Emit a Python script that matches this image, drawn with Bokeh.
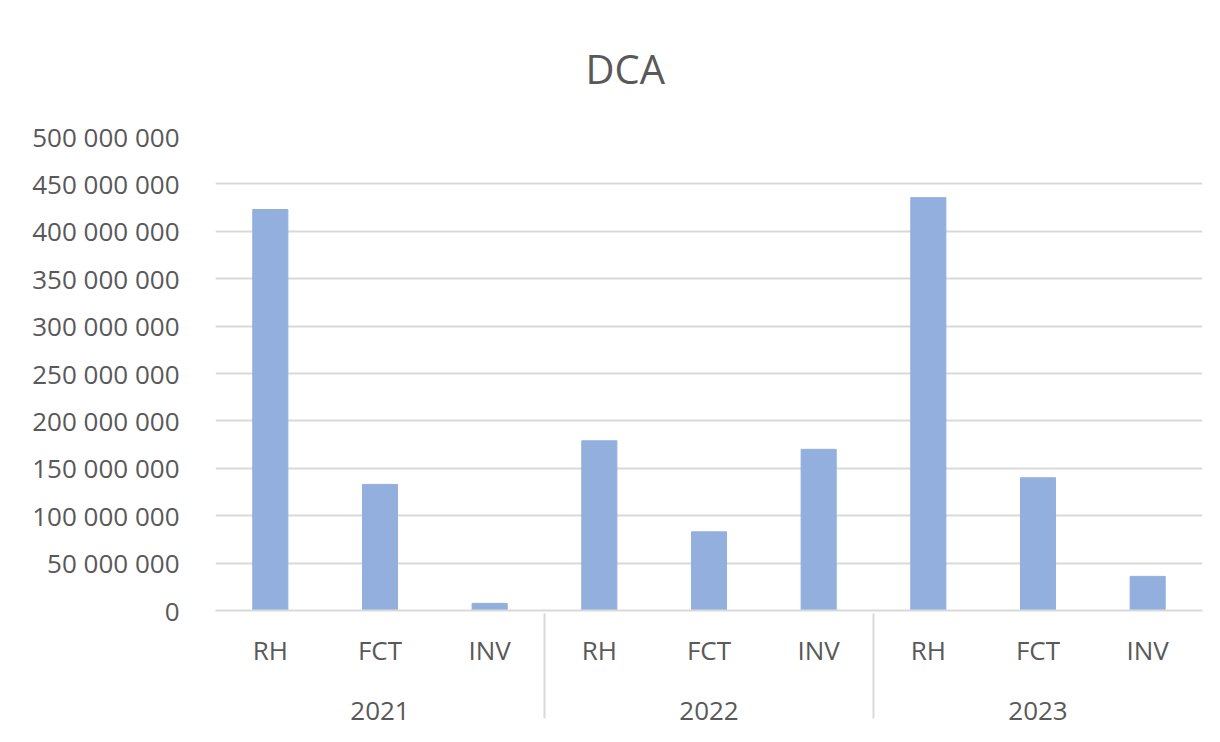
from bokeh.plotting import figure
from bokeh.models import FactorRange, CustomJSTickFormatter, FixedTicker, Range1d
from bokeh.embed import file_html
from bokeh.resources import INLINE

years = ["2021", "2022", "2023"]
kinds = ["RH", "FCT", "INV"]
values = [423e6, 133e6, 7.5e6, 179e6, 83e6, 170e6, 435.5e6, 140e6, 36e6]
y_ticks = [0, 50e6, 100e6, 150e6, 200e6, 250e6, 300e6, 350e6, 400e6, 450e6, 500e6]

# group labels carry a leading line break so the year row sits lower, as in the original
factors = [("\n" + y, k) for y in years for k in kinds]

FONT = "Open Sans"
TXT = "#595959"
GRID = "#d9d9d9"

p = figure(
    x_range=FactorRange(*factors, factor_padding=0, group_padding=0, range_padding=0),
    y_range=Range1d(0, 500e6),
    width=1212, height=734,
    output_backend="svg", toolbar_location=None,
    title="DCA",
    min_border_left=215, min_border_right=10,
    min_border_top=136, min_border_bottom=124,
)

p.vbar(x=factors, top=values, width=0.32, fill_color="#92AFDE", line_color="#92AFDE")

p.title.align = "left"
p.title.vertical_align = "top"
p.title.offset = 370
p.title.standoff = 78
p.title.text_font = FONT
p.title.text_font_size = "40px"
p.title.text_font_style = "normal"
p.title.text_color = TXT

p.outline_line_color = None
p.xgrid.grid_line_color = None
p.ygrid.ticker = FixedTicker(ticks=y_ticks)
p.ygrid.grid_line_color = GRID
p.ygrid.grid_line_width = 2

p.yaxis.ticker = FixedTicker(ticks=y_ticks)
p.yaxis.formatter = CustomJSTickFormatter(
    code="return Math.round(tick).toString().replace(/\\B(?=(\\d{3})+(?!\\d))/g, ' ');")
p.yaxis.axis_line_color = None
p.yaxis.major_tick_line_color = None
p.yaxis.minor_tick_line_color = None
p.yaxis.major_label_standoff = 30
p.yaxis.major_label_text_font = FONT
p.yaxis.major_label_text_font_size = "26px"
p.yaxis.major_label_text_color = TXT

p.xaxis.axis_line_color = GRID
p.xaxis.axis_line_width = 2
p.xaxis.major_tick_line_color = None
p.xaxis.major_label_standoff = 15
p.xaxis.major_label_text_font = FONT
p.xaxis.major_label_text_font_size = "26px"
p.xaxis.major_label_text_color = TXT
p.xaxis.group_text_font = FONT
p.xaxis.group_text_font_size = "26px"
p.xaxis.group_text_font_style = "normal"
p.xaxis.group_text_color = TXT
p.xaxis.group_text_line_height = 0.17
p.xaxis.separator_line_color = GRID
p.xaxis.separator_line_width = 2

open("out.html", "w").write(file_html(p, INLINE))
